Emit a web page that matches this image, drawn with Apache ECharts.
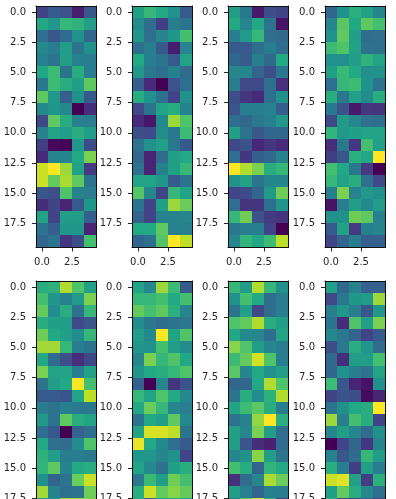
<!DOCTYPE html>
<html>
<head>
<meta charset="utf-8">
<style>
html, body { margin: 0; padding: 0; background: #fff; overflow: hidden; }
#chart { width: 396px; height: 499px; }
</style>
<script src="https://cdn.jsdelivr.net/npm/echarts@6/dist/echarts.min.js"></script>
</head>
<body>
<div id="chart"></div>
<script>
// values, as position on the colour scale (0 - 1)
let panel1 = [
    [0.20, 0.28, 0.25, 0.08, 0.27], [0.60, 0.52, 0.66, 0.64, 0.55], [0.36, 0.27, 0.35, 0.50, 0.33], [0.47, 0.42, 0.55, 0.38, 0.50],
    [0.43, 0.38, 0.55, 0.43, 0.42], [0.60, 0.68, 0.38, 0.62, 0.42], [0.40, 0.68, 0.62, 0.56, 0.75], [0.75, 0.53, 0.30, 0.50, 0.28],
    [0.47, 0.52, 0.47, 0.00, 0.13], [0.22, 0.75, 0.62, 0.43, 0.42], [0.43, 0.58, 0.55, 0.62, 0.55], [0.18, 0.02, 0.01, 0.52, 0.23],
    [0.12, 0.45, 0.45, 0.60, 0.80], [0.92, 1.00, 0.85, 0.58, 0.17], [0.92, 0.76, 0.87, 0.75, 0.38], [0.27, 0.24, 0.72, 0.44, 0.42],
    [0.13, 0.20, 0.10, 0.28, 0.52], [0.58, 0.20, 0.55, 0.55, 0.30], [0.38, 0.30, 0.52, 0.52, 0.10], [0.32, 0.38, 0.15, 0.24, 0.70]
];
let panel2 = [
    [0.56, 0.66, 0.60, 0.50, 0.28], [0.48, 0.35, 0.18, 0.42, 0.38], [0.52, 0.36, 0.45, 0.52, 0.70], [0.37, 0.42, 0.28, 0.08, 0.45],
    [0.60, 0.42, 0.38, 0.28, 0.58], [0.53, 0.40, 0.36, 0.43, 0.35], [0.30, 0.12, 0.00, 0.26, 0.36], [0.62, 0.50, 0.37, 0.20, 0.50],
    [0.22, 0.38, 0.58, 0.62, 0.44], [0.12, 0.06, 0.47, 0.85, 0.72], [0.24, 0.23, 0.48, 0.40, 0.68], [0.38, 0.50, 0.56, 0.40, 0.28],
    [0.33, 0.10, 0.35, 0.56, 0.60], [0.38, 0.10, 0.43, 0.56, 0.66], [0.58, 0.58, 0.52, 0.28, 0.38], [0.73, 0.45, 0.20, 0.66, 0.58],
    [0.38, 0.20, 0.56, 0.85, 0.77], [0.32, 0.20, 0.44, 0.44, 0.46], [0.60, 0.60, 0.75, 0.43, 0.43], [0.32, 0.37, 0.73, 1.00, 0.90]
];
let panel3 = [
    [0.55, 0.40, 0.07, 0.24, 0.20], [0.60, 0.46, 0.60, 0.38, 0.05], [0.42, 0.54, 0.66, 0.36, 0.34], [0.28, 0.28, 0.36, 0.42, 0.35],
    [0.33, 0.29, 0.42, 0.34, 0.60], [0.45, 0.46, 0.32, 0.24, 0.40], [0.42, 0.22, 0.22, 0.36, 0.14], [0.24, 0.16, 0.12, 0.36, 0.50],
    [0.25, 0.42, 0.42, 0.44, 0.30], [0.36, 0.33, 0.40, 0.43, 0.53], [0.56, 0.38, 0.27, 0.33, 0.33], [0.22, 0.25, 0.11, 0.16, 0.12],
    [0.36, 0.16, 0.30, 0.34, 0.44], [1.00, 0.88, 0.80, 0.62, 0.66], [0.50, 0.57, 0.38, 0.46, 0.46], [0.20, 0.23, 0.33, 0.54, 0.78],
    [0.36, 0.15, 0.15, 0.36, 0.52], [0.66, 0.78, 0.25, 0.17, 0.15], [0.40, 0.42, 0.42, 0.20, 0.00], [0.45, 0.65, 0.60, 0.68, 0.90]
];
let panel4 = [
    [0.33, 0.50, 0.63, 0.57, 0.46], [0.45, 0.74, 0.60, 0.75, 0.70], [0.50, 0.75, 0.56, 0.35, 0.36], [0.68, 0.72, 0.57, 0.37, 0.37],
    [0.50, 0.50, 0.55, 0.64, 0.58], [0.56, 0.67, 0.60, 0.50, 0.50], [0.36, 0.66, 0.68, 0.50, 0.38], [0.62, 0.40, 0.56, 0.48, 0.62],
    [0.40, 0.26, 0.07, 0.16, 0.15], [0.22, 0.54, 0.45, 0.37, 0.36], [0.65, 0.53, 0.56, 0.58, 0.58], [0.13, 0.40, 0.16, 0.70, 0.56],
    [0.18, 0.27, 0.63, 0.60, 1.00], [0.70, 0.60, 0.40, 0.17, 0.00], [0.66, 0.58, 0.62, 0.37, 0.22], [0.42, 0.80, 0.44, 0.53, 0.50],
    [0.05, 0.42, 0.55, 0.47, 0.55], [0.50, 0.50, 0.78, 0.75, 0.43], [0.28, 0.57, 0.17, 0.43, 0.46], [0.20, 0.32, 0.42, 0.30, 0.30]
];
// bottom row runs off the picture, only rows up to 18 can be seen
let panel5 = [
    [0.62, 0.64, 0.88, 0.72, 0.56], [0.70, 0.52, 0.44, 0.54, 0.80], [0.76, 0.48, 0.62, 0.38, 0.66], [0.62, 0.56, 0.55, 0.22, 0.27],
    [0.78, 0.60, 0.56, 0.48, 0.66], [0.86, 0.86, 0.66, 0.42, 0.38], [0.60, 0.35, 0.24, 0.13, 0.22], [0.80, 0.58, 0.58, 0.42, 0.57],
    [0.38, 0.55, 0.60, 1.00, 0.70], [0.28, 0.28, 0.26, 0.58, 0.90], [0.42, 0.38, 0.43, 0.40, 0.40], [0.53, 0.38, 0.75, 0.62, 0.58],
    [0.36, 0.28, 0.00, 0.32, 0.36], [0.60, 0.37, 0.35, 0.48, 0.72], [0.64, 0.55, 0.42, 0.42, 0.41], [0.65, 0.75, 0.44, 0.60, 0.62],
    [0.50, 0.32, 0.38, 0.77, 0.92], [0.86, 0.44, 0.36, 0.38, 0.78], [0.55, 0.50, 0.86, 0.86, 0.80]
];
let panel6 = [
    [0.58, 0.47, 0.85, 0.68, 0.28], [0.66, 0.66, 0.70, 0.60, 0.70], [0.76, 0.70, 0.75, 0.63, 0.45], [0.48, 0.40, 0.35, 0.38, 0.40],
    [0.55, 0.47, 1.00, 0.58, 0.72], [0.52, 0.50, 0.70, 0.55, 0.48], [0.45, 0.80, 0.66, 0.72, 0.60], [0.52, 0.60, 0.62, 0.66, 0.72],
    [0.30, 0.00, 0.46, 0.15, 0.26], [0.66, 0.58, 0.72, 0.60, 0.47], [0.60, 0.77, 0.66, 0.46, 0.42], [0.38, 0.60, 0.55, 0.75, 0.47],
    [0.58, 0.94, 0.94, 0.90, 0.38], [0.97, 0.60, 0.47, 0.36, 0.28], [0.52, 0.52, 0.45, 0.50, 0.20], [0.58, 0.47, 0.37, 0.56, 0.62],
    [0.40, 0.67, 0.55, 0.78, 0.70], [0.62, 0.92, 0.76, 0.82, 0.76], [0.60, 0.30, 0.60, 0.60, 0.60]
];
let panel7 = [
    [0.66, 0.54, 0.88, 0.66, 0.50], [0.50, 0.70, 0.60, 0.35, 0.42], [0.38, 0.56, 0.22, 0.35, 0.42], [0.72, 0.76, 0.88, 0.62, 0.56],
    [0.60, 0.47, 0.45, 0.36, 0.58], [0.82, 0.72, 0.55, 0.46, 0.42], [0.68, 0.76, 0.93, 0.72, 0.42], [0.74, 0.45, 0.60, 0.50, 0.55],
    [0.33, 0.33, 0.60, 0.88, 0.72], [0.38, 0.62, 0.48, 0.64, 0.88], [0.58, 0.68, 0.74, 0.62, 0.42], [0.38, 0.44, 0.84, 1.00, 0.63],
    [0.56, 0.46, 0.80, 0.55, 0.36], [0.55, 0.26, 0.13, 0.09, 0.35], [0.46, 0.50, 0.82, 0.55, 0.38], [0.70, 0.62, 0.32, 0.65, 0.60],
    [0.14, 0.35, 0.45, 0.87, 0.77], [0.55, 0.43, 0.32, 0.43, 0.42], [0.40, 0.75, 0.95, 0.65, 0.18]
];
let panel8 = [
    [0.56, 0.34, 0.44, 0.30, 0.30], [0.22, 0.40, 0.52, 0.54, 0.85], [0.42, 0.52, 0.42, 0.27, 0.52], [0.38, 0.12, 0.72, 0.56, 0.80],
    [0.46, 0.40, 0.32, 0.20, 0.28], [0.24, 0.40, 0.62, 0.52, 0.35], [0.34, 0.13, 0.55, 0.55, 0.70], [0.33, 0.50, 0.42, 0.38, 0.58],
    [0.68, 0.27, 0.10, 0.05, 0.50], [0.20, 0.26, 0.24, 0.03, 0.10], [0.38, 0.50, 0.60, 0.62, 1.00], [0.85, 0.42, 0.70, 0.62, 0.20],
    [0.46, 0.56, 0.46, 0.35, 0.50], [0.00, 0.20, 0.33, 0.16, 0.45], [0.43, 0.27, 0.35, 0.66, 0.55], [0.62, 0.42, 0.18, 0.56, 0.42],
    [0.92, 0.95, 0.56, 0.18, 0.63], [0.55, 0.76, 0.62, 0.47, 0.36], [0.64, 0.20, 0.20, 0.30, 0.20]
];
let panels = [panel1, panel2, panel3, panel4, panel5, panel6, panel7, panel8];
let xTicks = [0, 2.5];
let yTicks = [0, 2.5, 5, 7.5, 10, 12.5, 15, 17.5];
let viridis = ['#440154', '#482475', '#414487', '#355f8d', '#2a788e', '#21918c', '#22a884', '#44bf70', '#7ad151', '#bddf26', '#fde725'];

let lefts = [36, 132, 228, 325];
let tops = [6, 281];
let plotW = 60;
let plotH = 241.5;
let inkColor = '#262626';

let renderCell = function(params, api) {
    let a = api.coord([api.value(0) - 0.5, api.value(1) - 0.5]);
    let b = api.coord([api.value(0) + 0.5, api.value(1) + 0.5]);
    let x = Math.round(a[0]);
    let y = Math.round(a[1]);
    return {
        type: 'rect',
        shape: { x: x, y: y, width: Math.round(b[0]) - x, height: Math.round(b[1]) - y },
        style: { fill: api.visual('color') }
    };
};

let grids = [], xAxes = [], yAxes = [], series = [];
panels.forEach((rows, i) => {
    grids.push({
        left: lefts[i % 4],
        top: tops[i < 4 ? 0 : 1],
        width: plotW,
        height: plotH,
        // second row runs past the bottom edge, do not let echarts shrink it
        outerBoundsMode: 'none'
    });
    let lineStyle = { color: '#111', width: 1 };
    let tick = { length: 4, lineStyle: { color: inkColor, width: 1 } };
    let label = { color: inkColor, fontFamily: 'DejaVu Sans', fontSize: 10, margin: 10 };
    // bottom and left carry ticks, the second pair only closes the frame
    xAxes.push({
        type: 'value', gridIndex: i, min: -0.5, max: 4.5, position: 'bottom', z: 5,
        splitLine: { show: false },
        axisLine: { show: true, onZero: false, lineStyle: lineStyle },
        axisTick: Object.assign({ show: true, customValues: xTicks }, tick),
        axisLabel: Object.assign({ customValues: xTicks, formatter: v => v.toFixed(1) }, label)
    }, {
        type: 'value', gridIndex: i, min: -0.5, max: 4.5, position: 'top', z: 5,
        splitLine: { show: false }, axisTick: { show: false }, axisLabel: { show: false },
        axisLine: { show: true, onZero: false, lineStyle: lineStyle }
    });
    yAxes.push({
        type: 'value', gridIndex: i, min: -0.5, max: 19.5, inverse: true, position: 'left', z: 5,
        splitLine: { show: false },
        axisLine: { show: true, onZero: false, lineStyle: lineStyle },
        axisTick: Object.assign({ show: true, customValues: yTicks }, tick),
        axisLabel: Object.assign({ customValues: yTicks, formatter: v => v.toFixed(1) }, label)
    }, {
        type: 'value', gridIndex: i, min: -0.5, max: 19.5, inverse: true, position: 'right', z: 5,
        splitLine: { show: false }, axisTick: { show: false }, axisLabel: { show: false },
        axisLine: { show: true, onZero: false, lineStyle: lineStyle }
    });
    let cells = [];
    rows.forEach((row, y) => {
        row.forEach((v, x) => {
            cells.push([x, y, v]);
        });
    });
    series.push({
        type: 'custom',
        xAxisIndex: i * 2,
        yAxisIndex: i * 2,
        renderItem: renderCell,
        encode: { x: 0, y: 1 },
        data: cells,
        silent: true,
        animation: false
    });
});

let chart = echarts.init(document.getElementById('chart'), null, { renderer: 'canvas' });
chart.setOption({
    backgroundColor: '#fff',
    animation: false,
    grid: grids,
    xAxis: xAxes,
    yAxis: yAxes,
    visualMap: {
        show: false,
        type: 'continuous',
        min: 0,
        max: 1,
        dimension: 2,
        inRange: { color: viridis }
    },
    series: series
});
</script>
</body>
</html>
